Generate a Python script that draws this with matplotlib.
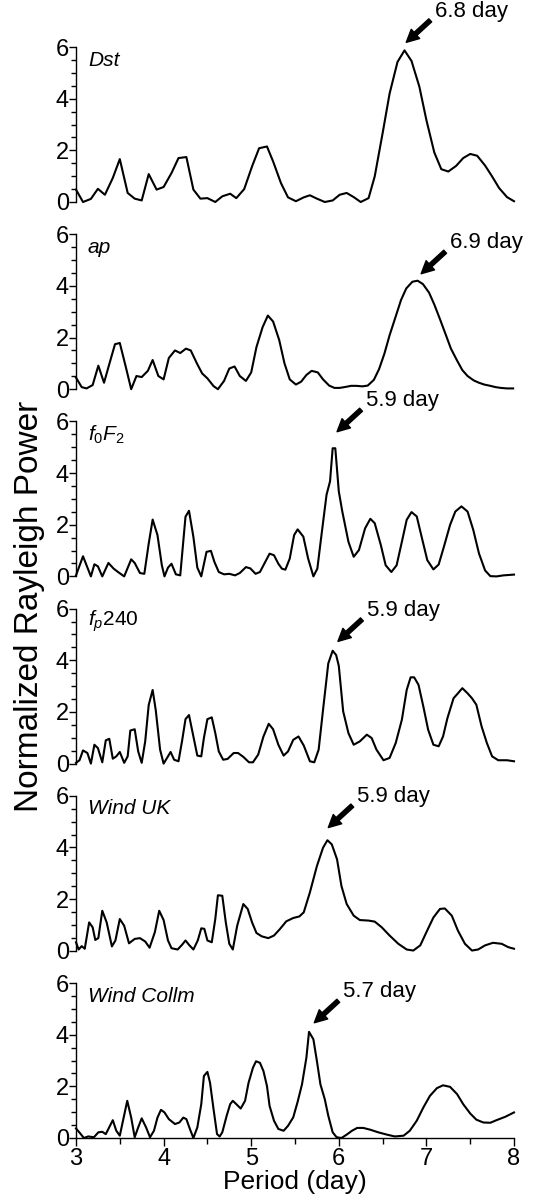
import matplotlib
matplotlib.use("Agg")
import matplotlib.pyplot as plt
import matplotlib.transforms as mtransforms
from matplotlib.ticker import MultipleLocator

plt.rcParams['font.family'] = ['Liberation Sans', 'DejaVu Sans']
plt.rcParams['mathtext.fontset'] = 'custom'
plt.rcParams['mathtext.it'] = 'Liberation Sans:italic'
plt.rcParams['mathtext.rm'] = 'Liberation Sans'

# ---------------- data ----------------
dst_period = [3.0, 3.08, 3.17, 3.25, 3.33, 3.42, 3.50, 3.59, 3.67, 3.75, 3.83, 3.92, 4.00, 4.09, 4.17, 4.26,
              4.34, 4.42, 4.50, 4.59, 4.67, 4.76, 4.83, 4.92, 5.01, 5.09, 5.18, 5.25, 5.34, 5.42, 5.51, 5.60,
              5.67, 5.75, 5.84, 5.93, 6.01, 6.09, 6.17, 6.25, 6.34, 6.41, 6.50, 6.58, 6.67, 6.75, 6.83, 6.92,
              7.00, 7.09, 7.17, 7.25, 7.34, 7.42, 7.50, 7.58, 7.67, 7.75, 7.83, 7.92, 8.0]
dst_power = [0.48, 0.0, 0.12, 0.51, 0.28, 0.93, 1.66, 0.35, 0.13, 0.06, 1.08, 0.48, 0.58, 1.12, 1.70, 1.74,
             0.48, 0.13, 0.15, 0.0, 0.22, 0.32, 0.15, 0.50, 1.38, 2.08, 2.15, 1.57, 0.73, 0.18, 0.03, 0.18,
             0.26, 0.13, 0.0, 0.06, 0.28, 0.35, 0.19, 0.0, 0.15, 0.99, 2.66, 4.20, 5.42, 5.87, 5.46, 4.46,
             3.17, 1.92, 1.27, 1.18, 1.40, 1.70, 1.86, 1.79, 1.41, 0.99, 0.54, 0.19, 0.03]

ap_period = [3.0, 3.065, 3.12, 3.19, 3.255, 3.32, 3.38, 3.445, 3.50, 3.57, 3.63, 3.69, 3.75, 3.82, 3.875,
             3.94, 4.0, 4.06, 4.13, 4.19, 4.255, 4.31, 4.38, 4.44, 4.50, 4.57, 4.62, 4.69, 4.75, 4.81, 4.87,
             4.94, 5.0, 5.06, 5.13, 5.19, 5.25, 5.32, 5.38, 5.44, 5.51, 5.57, 5.63, 5.69, 5.76, 5.82, 5.89,
             5.95, 6.01, 6.08, 6.14, 6.20, 6.27, 6.33, 6.40, 6.46, 6.52, 6.58, 6.65, 6.71, 6.77, 6.84, 6.90,
             6.96, 7.03, 7.09, 7.155, 7.22, 7.28, 7.35, 7.41, 7.47, 7.54, 7.60, 7.66, 7.73, 7.79, 7.85, 7.92, 7.99]
ap_power = [0.45, 0.08, 0.03, 0.16, 0.91, 0.25, 0.97, 1.74, 1.79, 0.84, 0.0, 0.51, 0.47, 0.71, 1.13,
            0.51, 0.38, 1.21, 1.50, 1.40, 1.57, 1.50, 1.00, 0.61, 0.42, 0.12, 0.0, 0.32, 0.80, 0.88, 0.51,
            0.32, 0.65, 1.63, 2.40, 2.85, 2.62, 1.90, 1.00, 0.38, 0.18, 0.29, 0.55, 0.71, 0.65, 0.38, 0.14,
            0.05, 0.05, 0.09, 0.13, 0.13, 0.11, 0.14, 0.36, 0.78, 1.37, 2.09, 2.82, 3.45, 3.90, 4.16, 4.20,
            4.07, 3.74, 3.28, 2.71, 2.12, 1.57, 1.11, 0.74, 0.51, 0.34, 0.25, 0.18, 0.13, 0.08, 0.05, 0.03, 0.03]

fof2_period = [3.0, 3.08, 3.17, 3.21, 3.25, 3.30, 3.37, 3.43, 3.48, 3.55, 3.63, 3.67, 3.73, 3.78, 3.83,
               3.875, 3.93, 3.98, 4.01, 4.05, 4.09, 4.14, 4.19, 4.25, 4.29, 4.34, 4.385, 4.43, 4.49, 4.54,
               4.58, 4.63, 4.69, 4.75, 4.815, 4.87, 4.94, 4.99, 5.05, 5.10, 5.16, 5.21, 5.26, 5.31, 5.35,
               5.39, 5.44, 5.49, 5.53, 5.595, 5.65, 5.71, 5.755, 5.80, 5.86, 5.90, 5.93, 5.96, 6.0, 6.04,
               6.11, 6.17, 6.23, 6.30, 6.36, 6.41, 6.48, 6.535, 6.60, 6.66, 6.72, 6.775, 6.83, 6.89, 6.95,
               7.01, 7.08, 7.14, 7.20, 7.27, 7.33, 7.40, 7.47, 7.535, 7.60, 7.67, 7.73, 7.80, 7.88, 8.0]
fof2_power = [0.04, 0.78, 0.0, 0.47, 0.39, 0.0, 0.52, 0.30, 0.17, 0.0, 0.66, 0.52, 0.13, 0.10, 1.27,
              2.20, 1.60, 0.43, 0.0, 0.34, 0.49, 0.08, 0.04, 2.31, 2.54, 1.53, 0.34, 0.0, 0.95, 0.99,
              0.56, 0.17, 0.08, 0.10, 0.04, 0.13, 0.36, 0.31, 0.10, 0.17, 0.56, 0.88, 0.82, 0.49, 0.30,
              0.26, 0.69, 1.60, 1.82, 1.54, 0.69, 0.0, 0.30, 1.54, 3.16, 3.68, 4.96, 4.96, 3.29, 2.51,
              1.34, 0.76, 1.02, 1.86, 2.23, 2.06, 1.21, 0.43, 0.17, 0.43, 1.34, 2.19, 2.49, 2.32, 1.47,
              0.63, 0.27, 0.46, 1.15, 1.99, 2.51, 2.71, 2.51, 1.80, 0.89, 0.23, 0.01, 0.0, 0.04, 0.07]

fp240_period = [3.0, 3.04, 3.08, 3.13, 3.17, 3.21, 3.25, 3.30, 3.34, 3.38, 3.42, 3.46, 3.50, 3.55, 3.59,
                3.62, 3.67, 3.71, 3.75, 3.79, 3.83, 3.875, 3.91, 3.96, 4.0, 4.05, 4.08, 4.12, 4.17, 4.21,
                4.25, 4.29, 4.34, 4.385, 4.43, 4.46, 4.50, 4.55, 4.59, 4.63, 4.68, 4.73, 4.80, 4.85, 4.91,
                4.975, 5.02, 5.08, 5.14, 5.20, 5.25, 5.31, 5.37, 5.42, 5.48, 5.54, 5.60, 5.67, 5.72, 5.77,
                5.82, 5.88, 5.93, 5.97, 6.0, 6.05, 6.11, 6.17, 6.24, 6.32, 6.375, 6.43, 6.51, 6.58, 6.65,
                6.72, 6.775, 6.82, 6.86, 6.91, 6.965, 7.02, 7.08, 7.14, 7.19, 7.24, 7.31, 7.36, 7.41, 7.47,
                7.52, 7.57, 7.63, 7.69, 7.75, 7.82, 7.92, 8.0]
fp240_power = [0.03, 0.13, 0.51, 0.41, 0.0, 0.73, 0.60, 0.05, 0.90, 0.96, 0.19, 0.28, 0.45, 0.03, 0.28,
               1.28, 1.33, 0.47, 0.03, 0.86, 2.27, 2.85, 2.08, 0.54, 0.0, 0.28, 0.45, 0.15, 0.09, 0.86,
               1.72, 1.88, 1.05, 0.31, 0.28, 0.99, 1.72, 1.79, 1.18, 0.47, 0.15, 0.18, 0.41, 0.41, 0.26,
               0.05, 0.05, 0.35, 1.05, 1.54, 1.33, 0.73, 0.31, 0.47, 0.92, 1.05, 0.70, 0.09, 0.05, 0.54,
               2.08, 3.88, 4.37, 4.20, 3.78, 2.02, 1.18, 0.73, 0.86, 1.12, 0.99, 0.54, 0.13, 0.22, 0.80,
               1.70, 2.85, 3.34, 3.34, 3.05, 2.21, 1.31, 0.73, 0.67, 1.05, 1.76, 2.53, 2.72, 2.92, 2.72,
               2.53, 2.28, 1.44, 0.80, 0.28, 0.13, 0.13, 0.09]

wuk_period = [3.0, 3.03, 3.065, 3.10, 3.15, 3.19, 3.22, 3.255, 3.30, 3.35, 3.41, 3.45, 3.50, 3.55, 3.605,
              3.67, 3.73, 3.79, 3.84, 3.90, 3.95, 4.0, 4.05, 4.09, 4.16, 4.21, 4.25, 4.29, 4.34, 4.39,
              4.43, 4.465, 4.50, 4.55, 4.59, 4.62, 4.67, 4.71, 4.75, 4.79, 4.84, 4.91, 4.96, 5.01, 5.06,
              5.12, 5.195, 5.26, 5.33, 5.40, 5.48, 5.55, 5.60, 5.67, 5.75, 5.82, 5.87, 5.92, 5.98, 6.03,
              6.09, 6.17, 6.24, 6.34, 6.41, 6.49, 6.58, 6.68, 6.775, 6.85, 6.93, 7.0, 7.08, 7.155, 7.21,
              7.29, 7.36, 7.44, 7.52, 7.59, 7.67, 7.76, 7.86, 7.935, 8.0]
wuk_power = [0.33, 0.05, 0.18, 0.08, 1.10, 0.91, 0.42, 0.49, 1.55, 1.10, 0.17, 0.40, 1.23, 0.97, 0.29,
             0.46, 0.49, 0.36, 0.12, 0.72, 1.55, 1.19, 0.40, 0.10, 0.05, 0.23, 0.40, 0.23, 0.05, 0.40,
             0.87, 0.85, 0.40, 0.33, 1.23, 2.15, 2.13, 1.10, 0.27, 0.05, 0.97, 1.81, 1.62, 1.10, 0.69,
             0.56, 0.49, 0.59, 0.85, 1.14, 1.27, 1.33, 1.49, 2.26, 3.28, 3.99, 4.28, 4.12, 3.54, 2.51,
             1.81, 1.36, 1.19, 1.17, 1.13, 0.91, 0.59, 0.27, 0.05, 0.01, 0.21, 0.72, 1.29, 1.62, 1.64,
             1.36, 0.78, 0.27, 0.01, 0.05, 0.21, 0.31, 0.27, 0.14, 0.08]

wcol_period = [3.0, 3.045, 3.09, 3.14, 3.205, 3.255, 3.30, 3.34, 3.42, 3.46, 3.50, 3.585, 3.63, 3.67, 3.71,
               3.75, 3.80, 3.845, 3.89, 3.93, 3.97, 4.01, 4.06, 4.13, 4.18, 4.225, 4.26, 4.30, 4.34, 4.385,
               4.43, 4.46, 4.50, 4.53, 4.57, 4.61, 4.64, 4.67, 4.72, 4.76, 4.79, 4.83, 4.88, 4.93, 4.97,
               5.02, 5.055, 5.10, 5.14, 5.18, 5.21, 5.26, 5.31, 5.37, 5.42, 5.48, 5.53, 5.58, 5.63, 5.66,
               5.71, 5.75, 5.79, 5.84, 5.88, 5.93, 5.975, 6.03, 6.09, 6.15, 6.21, 6.28, 6.36, 6.45, 6.55,
               6.64, 6.74, 6.81, 6.89, 6.965, 7.04, 7.12, 7.19, 7.27, 7.35, 7.42, 7.50, 7.57, 7.65, 7.73,
               7.80, 7.90, 8.0]
wcol_power = [0.37, 0.19, 0.0, 0.06, 0.03, 0.22, 0.24, 0.15, 0.69, 0.28, 0.09, 1.44, 0.79, 0.03, 0.41,
              0.76, 0.41, 0.03, 0.28, 0.79, 1.09, 0.99, 0.73, 0.54, 0.60, 0.79, 0.73, 0.35, 0.0, 0.41,
              1.31, 2.40, 2.56, 2.14, 1.12, 0.15, 0.06, 0.22, 0.86, 1.31, 1.44, 1.31, 1.14, 1.44, 2.14,
              2.72, 2.97, 2.91, 2.59, 2.01, 1.24, 0.67, 0.35, 0.28, 0.47, 0.80, 1.40, 2.08, 3.11, 4.11,
              3.82, 2.98, 2.08, 1.50, 0.86, 0.22, 0.03, 0.0, 0.13, 0.28, 0.39, 0.39, 0.32, 0.22, 0.13,
              0.06, 0.09, 0.28, 0.67, 1.18, 1.63, 1.93, 2.04, 1.98, 1.70, 1.31, 0.95, 0.71, 0.60, 0.59,
              0.69, 0.82, 0.99]

panel_labels = ['Dst', 'ap', r'$f_{\mathit{0}}F_{\mathit{2}}$', r'$f_{p}\mathit{240}$', 'Wind UK', 'Wind Collm']
peak_labels = ['6.8 day', '6.9 day', '5.9 day', '5.9 day', '5.9 day', '5.7 day']
arrow_tip_period = [6.77, 6.94, 5.98, 5.99, 5.88, 5.72]
arrow_tip_power = [6.18, 4.47, 5.6, 4.73, 4.77, 4.46]

periods = [dst_period, ap_period, fof2_period, fp240_period, wuk_period, wcol_period]
powers = [dst_power, ap_power, fof2_power, fp240_power, wuk_power, wcol_power]

# ---------------- figure ----------------
W, H = 533, 1199
fig = plt.figure(figsize=(W / 100, H / 100), dpi=100)

left_px, right_px = 76, 514
top0_px, step_px, height_px = 47, 187.2, 155

for i in range(6):
    top = top0_px + i * step_px
    ax = fig.add_axes([left_px / W, 1 - (top + height_px) / H, (right_px - left_px) / W, height_px / H])
    ax.plot(periods[i], powers[i], color='black', lw=1.5, clip_on=False)
    ax.set_xlim(3, 8)
    ax.set_ylim(0, 6)
    for s in ['top', 'right']:
        ax.spines[s].set_visible(False)
    ax.spines['left'].set_linewidth(1.0)
    ax.yaxis.set_major_locator(MultipleLocator(2))
    ax.yaxis.set_minor_locator(MultipleLocator(0.5))
    ax.tick_params(axis='y', which='major', direction='out', length=5, width=1.0, labelsize=17, pad=0)
    ax.tick_params(axis='y', which='minor', direction='out', length=3.5, width=1.0)
    if i < 5:
        ax.spines['bottom'].set_visible(False)
        ax.tick_params(axis='x', which='both', bottom=False, labelbottom=False)
    else:
        ax.spines['bottom'].set_linewidth(1.0)
        ax.xaxis.set_major_locator(MultipleLocator(1))
        ax.xaxis.set_minor_locator(MultipleLocator(0.5))
        ax.tick_params(axis='x', which='major', direction='out', length=6, width=1.0, labelsize=17, pad=1)
        ax.tick_params(axis='x', which='minor', direction='out', length=4, width=1.0)
        ax.set_xlabel('Period (day)', fontsize=19, labelpad=0)
    ax.patch.set_alpha(0)

    offset = mtransforms.offset_copy(ax.transAxes, fig=fig, x=12, y=-13, units='dots')
    ax.text(0, 1, panel_labels[i], transform=offset, fontsize=15, style='italic',
            ha='left', va='center')

    ax.annotate('', xy=(arrow_tip_period[i], arrow_tip_power[i]), xycoords='data',
                xytext=(24, 22), textcoords='offset pixels', annotation_clip=False,
                arrowprops=dict(arrowstyle='simple,head_length=0.9,head_width=0.9,tail_width=0.3',
                                fc='black', ec='black', mutation_scale=10, shrinkA=0, shrinkB=0))
    ax.annotate(peak_labels[i], xy=(arrow_tip_period[i], arrow_tip_power[i]), xycoords='data',
                xytext=(29, 31), textcoords='offset pixels', annotation_clip=False,
                fontsize=16, ha='left', va='center')

fig.text(30 / W, 1 - 606 / H, 'Normalized Rayleigh Power', rotation=90, fontsize=24,
         ha='center', va='center')

fig.savefig('out.png', dpi=100)
